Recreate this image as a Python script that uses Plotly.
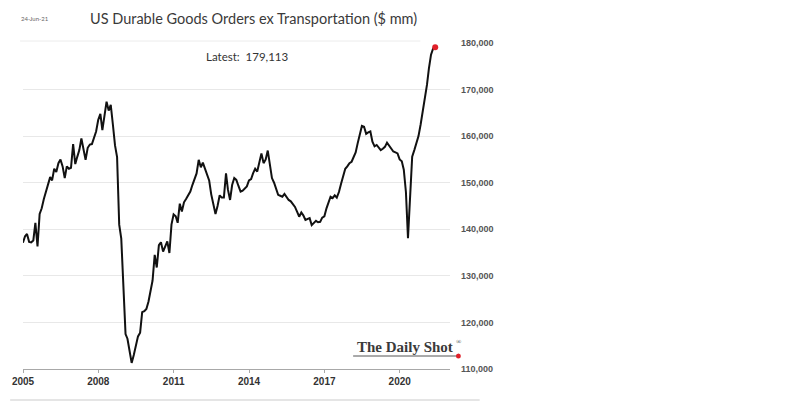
import pandas as pd
import plotly.graph_objects as go

# Monthly (month-end) US durable goods orders ex transportation, $ mm
start_month = "2004-12-31"
orders = [
    137100, 138500, 139000, 137300, 137200, 137600, 141400, 136300, 143300, 144500, 146500, 148200,
    149800, 151200, 150500, 153000, 152300, 154200, 155000, 153500, 151000, 153500, 153000, 153200,
    158300, 154000, 155500, 157000, 159500, 157500, 154900, 157500, 158200, 158300, 159500, 161000,
    163500, 164800, 161300, 164000, 167400, 165500, 166700, 162500, 158000, 155500, 141000, 138000,
    128000, 117500, 116500, 114000, 111300, 113000, 114800, 117000, 117800, 122200, 122400, 122900,
    124500, 126500, 129000, 134500, 131800, 136600, 137200, 135200, 136500, 137400, 134900, 141000,
    143200, 142800, 141400, 145500, 143800, 145800, 146500, 147300, 148100, 149500, 151000, 152000,
    154900, 153300, 154300, 153000, 151500, 150500, 147500, 145500, 143300, 145000, 147300, 146800,
    146800, 152000, 148500, 146300, 149500, 151000, 150600, 149300, 148100, 148300, 148800, 149200,
    150500, 150800, 152000, 153000, 152400, 154500, 156300, 154200, 155000, 156900, 153500, 151000,
    150000, 148500, 147400, 147200, 147000, 147600, 146800, 146300, 146000, 145500, 144800, 143800,
    142700, 143600, 143000, 142000, 142200, 142400, 140900, 141300, 141800, 141500, 141600, 142500,
    142800, 144500, 145800, 147000, 146700, 147300, 146800, 148000, 149800, 151500, 153000, 153500,
    154200, 154500, 155500, 156500, 158500, 160800, 162200, 162000, 160500, 160800, 161000, 158800,
    157800, 158100, 157500, 157000, 157300, 157700, 158600, 158000, 157300, 156700, 156500, 156300,
    155000, 154600, 152800, 148000, 138100, 146800, 155600, 157000, 158300, 160000, 162500, 165300,
    167800, 171000, 174500, 177500, 178800, 179113,
]
dates = pd.date_range(start_month, periods=len(orders), freq="ME")

y_ticks = [110000, 120000, 130000, 140000, 150000, 160000, 170000, 180000]
title_text = "US Durable Goods Orders ex Transportation ($ mm)"
date_stamp = "24-Jun-21"
latest_text = "Latest:  179,113"
brand = "The Daily Shot"

W, H = 800, 410
L, R, T, B = 18, 450, 43, 369  # plot area in pixels


def px(x):
    return (x - L) / (R - L)


def py(y):
    return (B - y) / (B - T)


fig = go.Figure()
fig.add_trace(go.Scatter(x=dates, y=orders, mode="lines",
                         line=dict(color="#111111", width=2), hoverinfo="skip"))
fig.add_trace(go.Scatter(x=[dates[-1]], y=[orders[-1]], mode="markers",
                         marker=dict(color="#e0202a", size=6), hoverinfo="skip"))

fig.update_layout(
    width=W, height=H,
    margin=dict(l=L, r=W - R, t=T, b=H - B),
    paper_bgcolor="white", plot_bgcolor="white",
    showlegend=False, hovermode=False,
    font=dict(family="Lato, Open Sans, sans-serif", color="#333333"),
    xaxis=dict(
        type="date", range=["2005-01-01", "2022-01-01"],
        tick0="2005-01-01", dtick="M36", tickformat="%Y",
        showgrid=False, showline=True, linecolor="#a8a8a8", linewidth=1,
        ticks="outside", ticklen=3, tickcolor="#a8a8a8",
        tickfont=dict(family="Liberation Sans", size=10, color="#333333", weight="bold"),
        zeroline=False,
    ),
    yaxis=dict(
        range=[110000, 180000], side="right", tickvals=y_ticks, tickformat=",d",
        showgrid=True, gridcolor="#e8e8e8", gridwidth=1, zeroline=False,
        showline=False, ticks="", ticklabelstandoff=10,
        tickfont=dict(family="Liberation Sans", size=9, color="#555555", weight="bold"),
    ),
)

annotations = [
    dict(text=title_text, x=px(251), y=py(19), font=dict(size=14.5, color="#3a3a3a")),
    dict(text=date_stamp, x=px(30), y=py(19), font=dict(size=6, color="#666666")),
    dict(text=latest_text, x=px(245), y=py(57), font=dict(size=11.5, color="#333333")),
    dict(text="<b>" + brand + "</b>", x=px(404), y=py(347),
         font=dict(family="Liberation Serif", size=15, color="#3a3a3a")),
    dict(text="®", x=px(459), y=py(342),
         font=dict(family="Liberation Serif", size=7, color="#3a3a3a")),
]
for a in annotations:
    a.update(xref="paper", yref="paper", showarrow=False, xanchor="center", yanchor="middle")
fig.update_layout(annotations=annotations)

shapes = [
    dict(type="line", x0=px(15), x1=px(420), y0=py(41), y1=py(41),
         line=dict(color="#ececec", width=1)),
    dict(type="line", x0=px(5), x1=px(480), y0=py(400), y1=py(400),
         line=dict(color="#dddddd", width=1.5)),
    dict(type="line", x0=px(352), x1=px(458), y0=py(356), y1=py(356),
         line=dict(color="#555555", width=1)),
    dict(type="circle", x0=px(456), x1=px(461), y0=py(358.5), y1=py(353.5),
         fillcolor="#e0202a", line=dict(width=0)),
]
for s in shapes:
    s.update(xref="paper", yref="paper")
fig.update_layout(shapes=shapes)

fig.write_html("out.html")
